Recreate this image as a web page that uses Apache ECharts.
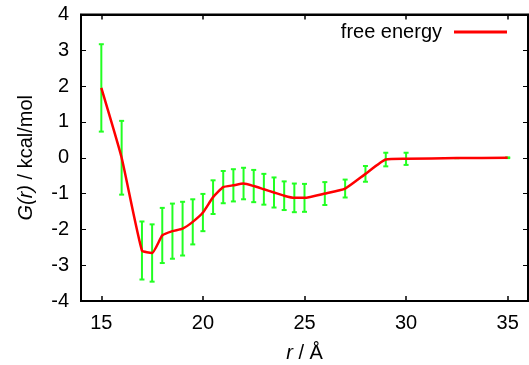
<!DOCTYPE html>
<html>
<head>
<meta charset="utf-8">
<script src="https://cdn.jsdelivr.net/npm/echarts@6/dist/echarts.min.js"></script>
<style>
  html, body { margin: 0; padding: 0; background: #fff; }
  #chart { width: 529px; height: 365px; }
</style>
</head>
<body>
<div id="chart"></div>
<script>
// r in Å
const rValues = [15, 16, 17, 17.5, 18, 18.5, 19, 19.5, 20, 20.5, 21, 21.5, 22, 22.5, 23, 23.5, 24, 24.5, 25, 26, 27, 28, 29, 30, 32.5, 35];
// G(r) in kcal/mol
const gValues = [1.95, 0.0, -2.59, -2.66, -2.17, -2.05, -1.98, -1.79, -1.53, -1.10, -0.82, -0.77, -0.72, -0.79, -0.88, -0.97, -1.06, -1.12, -1.12, -1.0, -0.86, -0.45, -0.05, -0.03, -0.01, 0.0];
// half-width of error bar
const gErrors = [1.22, 1.03, 0.81, 0.8, 0.77, 0.77, 0.75, 0.63, 0.52, 0.47, 0.45, 0.45, 0.44, 0.45, 0.43, 0.42, 0.40, 0.40, 0.39, 0.32, 0.25, 0.22, 0.19, 0.17, 0, 0.01];
const xTicks = [15, 20, 25, 30, 35];
const yTicks = [-4, -3, -2, -1, 0, 1, 2, 3, 4];

const font = 'Liberation Sans, Arial, sans-serif';
const lineData = rValues.map((r, i) => [r, gValues[i]]);
const errData = rValues.map((r, i) => [r, gValues[i] - gErrors[i], gValues[i] + gErrors[i]]);

const chart = echarts.init(document.getElementById('chart'));
const baseX = () => ({
    type: 'value', min: 14, max: 36, z: 10,
    axisLine: { show: true, onZero: false, lineStyle: { color: '#000', width: 2 } },
    splitLine: { show: false },
    axisTick: { show: true, inside: true, length: 5, lineStyle: { color: '#000', width: 1.5 }, customValues: xTicks }
});
const baseY = () => ({
    type: 'value', min: -4, max: 4, interval: 1,
    axisLine: { show: true, onZero: false, lineStyle: { color: '#000', width: 1.5 } },
    splitLine: { show: false },
    axisTick: { show: true, inside: true, length: 5, lineStyle: { color: '#000' }, customValues: yTicks }
});

chart.setOption({
    animation: false,
    grid: {
        left: 81, right: 1, top: 14.5, bottom: 64, containLabel: false, outerBoundsMode: 'none',
        show: true, borderColor: '#000', borderWidth: 2, backgroundColor: 'transparent'
    },
    legend: {
        right: 17, top: 17, align: 'right',
        itemWidth: 53, itemHeight: 3, icon: 'rect',
        textStyle: { fontFamily: font, fontSize: 20, color: '#000', padding: [0, 7, 0, 0] },
        data: [{ name: 'free energy', itemStyle: { color: '#ff0000' } }]
    },
    xAxis: [
        {
            ...baseX(), position: 'bottom',
            axisLabel: { fontFamily: font, fontSize: 20, color: '#000', margin: 12, customValues: xTicks },
            name: '{i|r} / Å', nameLocation: 'middle', nameGap: 42,
            nameTextStyle: {
                fontFamily: font, fontSize: 20, color: '#000',
                rich: { i: { fontFamily: font, fontSize: 20, fontStyle: 'italic', color: '#000' } }
            }
        },
        { ...baseX(), position: 'top', axisLabel: { show: false } }
    ],
    yAxis: [
        {
            ...baseY(), position: 'left',
            axisLabel: { fontFamily: font, fontSize: 20, color: '#000', margin: 12 },
            name: '{i|G(r)} / kcal/mol', nameLocation: 'middle', nameGap: 45,
            nameTextStyle: {
                fontFamily: font, fontSize: 20, color: '#000',
                rich: { i: { fontFamily: font, fontSize: 20, fontStyle: 'italic', color: '#000' } }
            }
        },
        { ...baseY(), position: 'right', axisLabel: { show: false } }
    ],
    series: [
        {
            type: 'custom',
            name: 'errors',
            z: 2,
            data: errData,
            encode: { x: 0, y: [1, 2] },
            renderItem(params, api) {
                const r = api.value(0);
                const lo = api.coord([r, api.value(1)]);
                const hi = api.coord([r, api.value(2)]);
                const cap = 2.5;
                const style = { stroke: '#22ff22', lineWidth: 2 };
                return {
                    type: 'group',
                    children: [
                        { type: 'line', shape: { x1: lo[0], y1: lo[1], x2: hi[0], y2: hi[1] }, style },
                        { type: 'line', shape: { x1: lo[0] - cap, y1: lo[1], x2: lo[0] + cap, y2: lo[1] }, style },
                        { type: 'line', shape: { x1: hi[0] - cap, y1: hi[1], x2: hi[0] + cap, y2: hi[1] }, style }
                    ]
                };
            }
        },
        {
            type: 'line',
            name: 'free energy',
            z: 3,
            data: lineData,
            smooth: 0.15,
            showSymbol: false,
            color: '#ff0000',
            lineStyle: { color: '#ff0000', width: 2.5 }
        }
    ]
});
</script>
</body>
</html>
